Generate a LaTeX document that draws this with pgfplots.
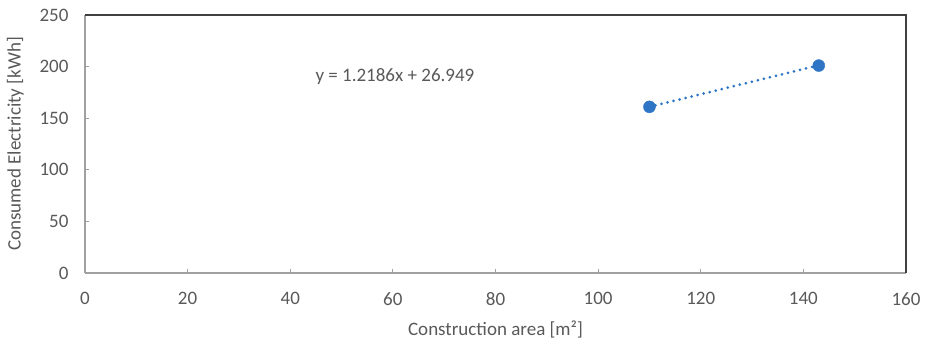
\documentclass[border=0pt]{standalone}
\usepackage{pgfplots}
\pgfplotsset{compat=1.18}
\usepackage{fontspec}
\setmainfont{Carlito}
\definecolor{txt}{RGB}{89,89,89}
\definecolor{axgray}{RGB}{160,160,160}
\definecolor{ptblue}{RGB}{46,117,198}
\begin{document}
\begin{tikzpicture}
\begin{axis}[
  scale only axis,
  width=821pt, height=258pt,
  xmin=0, xmax=160, ymin=0, ymax=250,
  xtick={0,20,...,160}, ytick={0,50,...,250},
  axis lines=left,
  axis line style={-, axgray, line width=1.2pt},
  tick align=inside,
  major tick length=4pt,
  tick style={axgray, line width=0.8pt},
  /pgf/number format/assume math mode=true,
  ticklabel style={font=\fontsize{19}{22}\selectfont, text=txt},
  xticklabel style={yshift=-16pt},
  yticklabel style={xshift=-13pt},
  xlabel={Construction area [m²]},
  ylabel={Consumed Electricity [kWh]},
  label style={font=\fontsize{19}{22}\selectfont, text=txt},
  xlabel style={yshift=-8pt},
  ylabel style={yshift=9pt},
  clip=false,
]
\draw[black!75, line width=1.2pt] (rel axis cs:0,1) -- (rel axis cs:1,1) -- (rel axis cs:1,0);
\addplot[ptblue, line width=3pt, dash pattern=on 0pt off 6.2pt, line cap=round] coordinates {(110,160.995) (143,201.209)};
\addplot[only marks, mark=*, mark size=6pt, ptblue] coordinates {(110,161) (143,201)};
\node[font=\fontsize{19}{22}\selectfont, text=txt] at (axis cs:60.4,190) {y = 1.2186x + 26.949};
\end{axis}
\path (current axis.south west) ++(-85pt,-70pt) coordinate (bl);
\path (current axis.north east) ++(19pt,15pt) coordinate (tr);
\path (bl) rectangle (tr);
\end{tikzpicture}
\end{document}
